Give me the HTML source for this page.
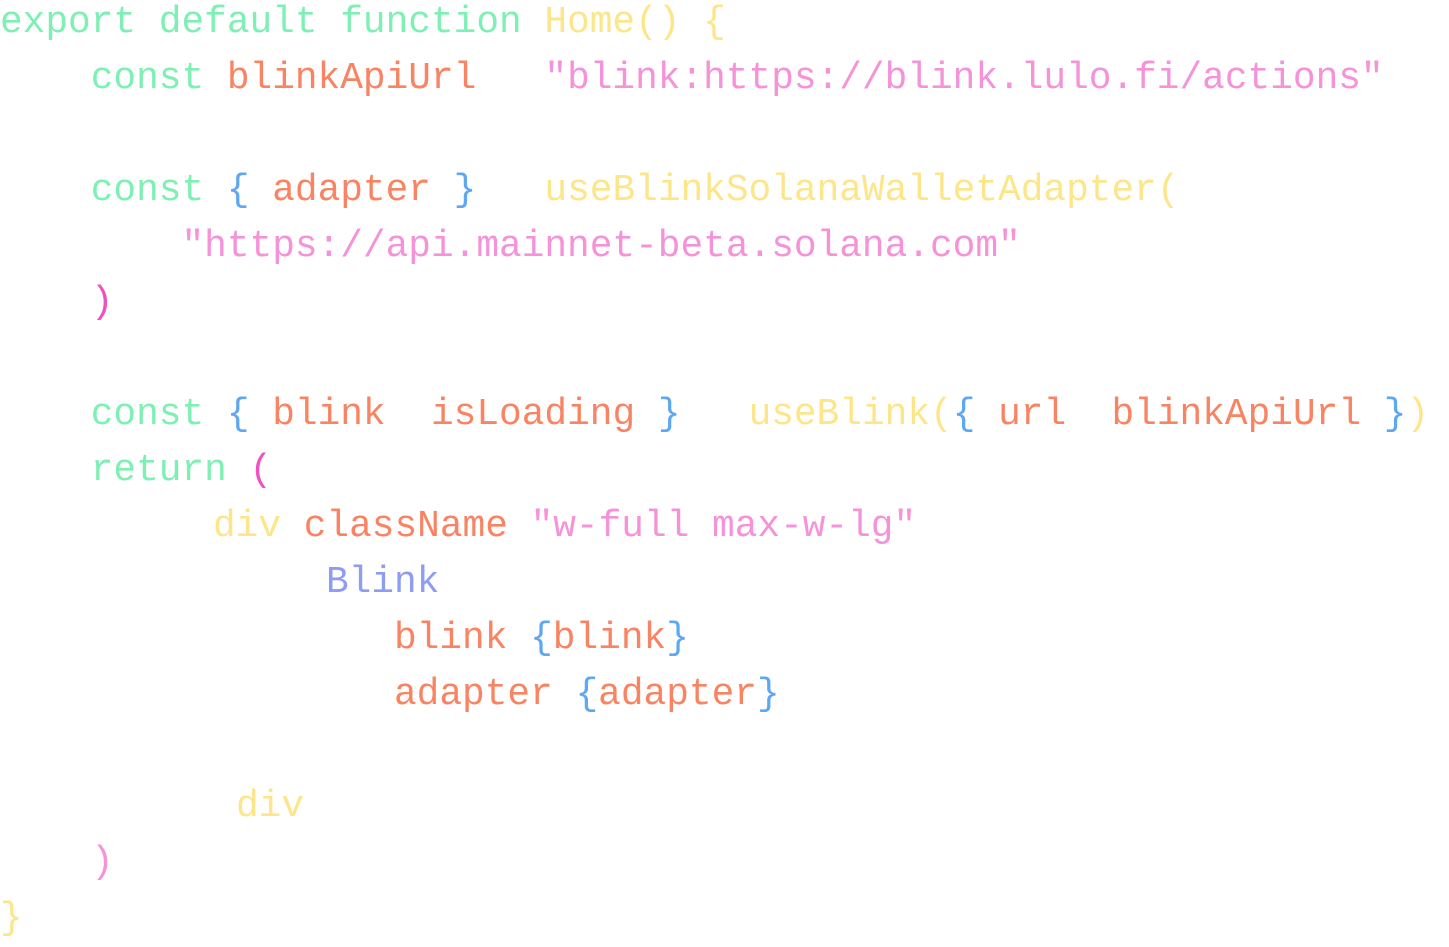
<!DOCTYPE html>
<html><head><meta charset="utf-8"><style>
html,body{margin:0;padding:0;background:#fff;width:1449px;height:936px;overflow:hidden}
.l{position:absolute;white-space:pre;font-family:"Liberation Mono","DejaVu Sans Mono",monospace;font-size:37.8px;line-height:56px;height:56px;margin-top:3px}
.g{color:#7ff0b4}.y{color:#fde68a}.o{color:#f98463}.p{color:#f592d8}.b{color:#5ea8f2}.v{color:#8e9cf2}.m{color:#f050c0}
</style></head><body>
<div class="l" style="left:0;top:-8px"><span class="g">export default function </span><span class="y">Home() {</span></div>
<div class="l" style="left:0;top:48px">    <span class="g">const </span><span class="o">blinkApiUrl</span>   <span class="p">"blink:https://blink.lulo.fi/actions"</span></div>
<div class="l" style="left:0;top:160px">    <span class="g">const </span><span class="b">{</span> <span class="o">adapter</span> <span class="b">}</span>   <span class="y">useBlinkSolanaWalletAdapter(</span></div>
<div class="l" style="left:0;top:216px">        <span class="p">"https://api.mainnet-beta.solana.com"</span></div>
<div class="l" style="left:0;top:272px">    <span class="m">)</span></div>
<div class="l" style="left:0;top:384px">    <span class="g">const </span><span class="b">{</span> <span class="o">blink</span>  <span class="o">isLoading</span> <span class="b">}</span>   <span class="y">useBlink(</span><span class="b">{</span> <span class="o">url</span>  <span class="o">blinkApiUrl</span> <span class="b">}</span><span class="y">)</span></div>
<div class="l" style="left:0;top:440px">    <span class="g">return </span><span class="m">(</span></div>
<div class="l" style="left:213px;top:496px"><span class="y">div</span> <span class="o">className</span> <span class="p">"w-full max-w-lg"</span></div>
<div class="l" style="left:326px;top:552px"><span class="v">Blink</span></div>
<div class="l" style="left:394px;top:608px"><span class="o">blink </span><span class="b">{</span><span class="o">blink</span><span class="b">}</span></div>
<div class="l" style="left:394px;top:664px"><span class="o">adapter </span><span class="b">{</span><span class="o">adapter</span><span class="b">}</span></div>
<div class="l" style="left:236px;top:776px"><span class="y">div</span></div>
<div class="l" style="left:91px;top:832px"><span class="p">)</span></div>
<div class="l" style="left:0;top:888px"><span class="y">}</span></div>
</body></html>
